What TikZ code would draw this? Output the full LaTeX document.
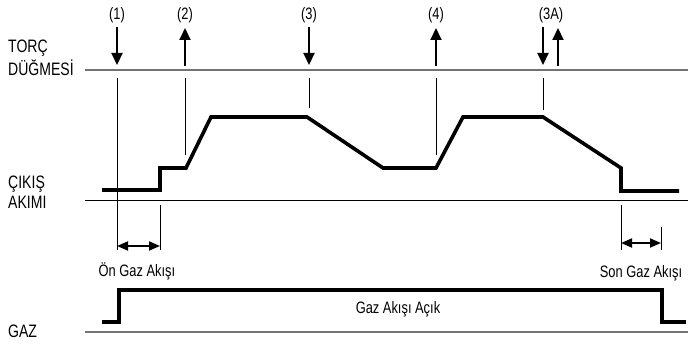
\documentclass[tikz,border=0pt]{standalone}
\usepackage{fontspec}
\setmainfont{Liberation Sans}[FakeStretch=0.78]
\usetikzlibrary{arrows.meta}
\begin{document}
\begin{tikzpicture}[x=1pt,y=-1pt,
  wave/.style={line width=3.6pt, line join=miter},
  thinln/.style={line width=0.8pt},
  axis/.style={line width=1.2pt, draw=black!55},
  sig/.style={line width=2pt, -{Triangle[width=11pt,length=12pt]}},
  dim/.style={line width=1.8pt, {Triangle[width=9pt,length=11pt]}-{Triangle[width=9pt,length=11pt]}},
  big/.style={font=\fontsize{18}{20}\selectfont, anchor=base west, inner sep=0},
  lab/.style={font=\fontsize{16.5}{19}\selectfont, inner sep=0}]
\useasboundingbox (0,0) rectangle (688,345);
% row labels
\node[big] (t1) at (8,53) {TORÇ};
\node[big] (t2) at (8,76) {DÜĞMESİ};
\node[big] (c1) at (8,188) {ÇIKIŞ};
\node[big] (c2) at (8,208) {AKIMI};
\node[big] (g1) at (8,337) {GAZ};
% axes
\coordinate (ta) at (85,70);  \coordinate (tb) at (688,70);
\coordinate (ca) at (85,200); \coordinate (cb) at (688,200);
\coordinate (ga) at (85,332); \coordinate (gb) at (688,332);
\draw[axis] (ta) -- (tb);
\draw[thinln] (ca) -- (cb);
\draw[axis] (ga) -- (gb);
% event labels
\node[lab] (l1) at (117,15) {(1)};
\node[lab] (l2) at (185,15) {(2)};
\node[lab] (l3) at (309,15) {(3)};
\node[lab] (l4) at (436,15) {(4)};
\node[lab] (l3a) at (551,15) {(3A)};
% event arrows
\coordinate (a1t) at (117,27); \coordinate (a1b) at (117,65);
\coordinate (a2t) at (185,28); \coordinate (a2b) at (185,66);
\coordinate (a3t) at (309,27); \coordinate (a3b) at (309,65);
\coordinate (a4t) at (436,28); \coordinate (a4b) at (436,66);
\coordinate (a5t) at (543,27); \coordinate (a5b) at (543,65);
\coordinate (a6t) at (558,28); \coordinate (a6b) at (558,66);
\draw[sig] (a1t) -- (a1b);
\draw[sig] (a2b) -- (a2t);
\draw[sig] (a3t) -- (a3b);
\draw[sig] (a4b) -- (a4t);
\draw[sig] (a5t) -- (a5b);
\draw[sig] (a6b) -- (a6t);
% thin verticals
\draw[thinln] (117,78) -- (117,250);
\draw[thinln] (185,78) -- (185,155);
\draw[thinln] (309,78) -- (309,108);
\draw[thinln] (436,78) -- (436,155);
\draw[thinln] (543,78) -- (543,110);
\draw[thinln] (160,205) -- (160,250);
\draw[thinln] (621,205) -- (621,250);
\draw[thinln] (661,227) -- (661,250);
% current waveform
\draw[wave] (102,190) -- (160,190) -- (160,168) -- (186,168) -- (211,117) -- (307,117)
  -- (383,168) -- (436,168) -- (463,117) -- (543,117) -- (621,168) -- (621,191) -- (679,191);
% gas waveform
\draw[wave] (102,322) -- (119,322) -- (119,290) -- (662,290) -- (662,322) -- (686,322);
% dimension arrows
\coordinate (d1a) at (117,246); \coordinate (d1b) at (160,246);
\coordinate (d2a) at (621,243); \coordinate (d2b) at (661,243);
\draw[dim] (d1a) -- (d1b);
\draw[dim] (d2a) -- (d2b);
\node[lab, anchor=base] (pre) at (137,276) {Ön Gaz Akışı};
\node[lab, anchor=base] (post) at (641,277) {Son Gaz Akışı};
\node[lab, anchor=base] (on) at (398,313) {Gaz Akışı Açık};
\end{tikzpicture}
\end{document}
